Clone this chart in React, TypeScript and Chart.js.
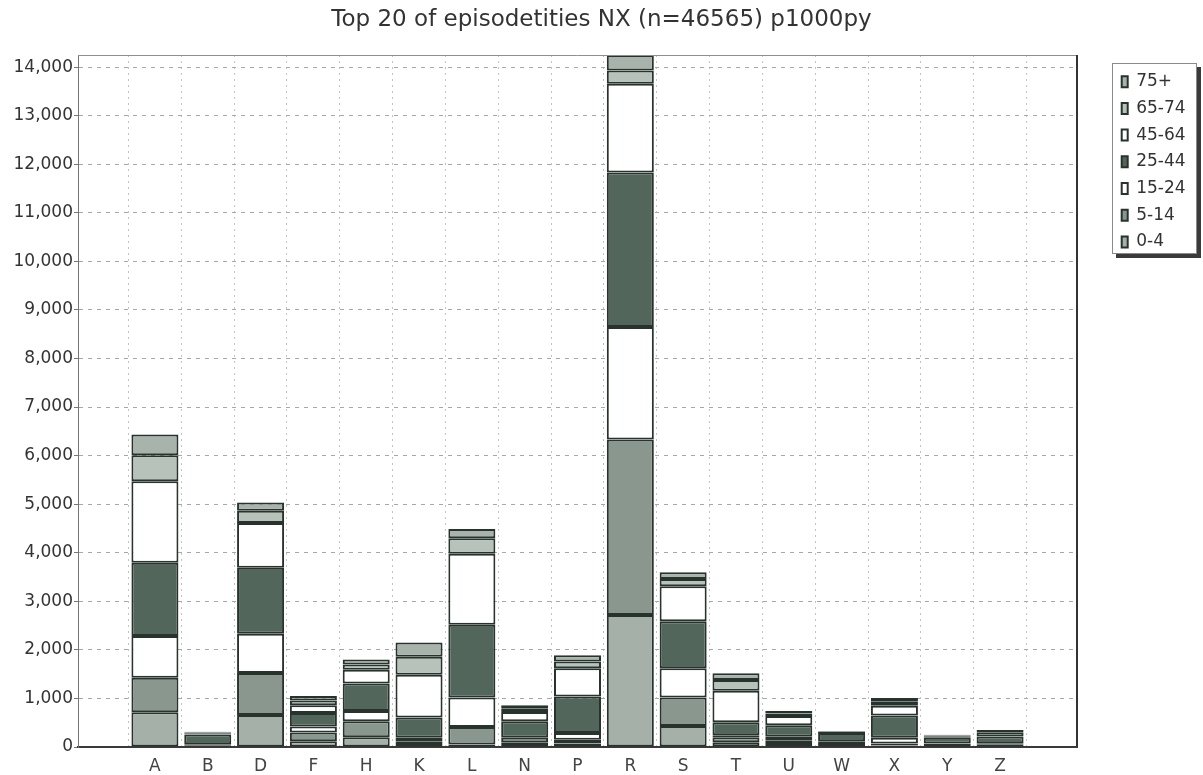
import React, { useEffect, useRef } from 'react';
import { Chart, registerables } from 'chart.js';

Chart.register(...registerables);

const chartTitle = 'Top 20 of episodetities NX (n=46565) p1000py';
const categories = ['A', 'B', 'D', 'F', 'H', 'K', 'L', 'N', 'P', 'R', 'S', 'T', 'U', 'W', 'X', 'Y', 'Z'];
const ageGroups = ['0-4', '5-14', '15-24', '25-44', '45-64', '65-74', '75+'];
const yTickValues = [0, 1000, 2000, 3000, 4000, 5000, 6000, 7000, 8000, 9000, 10000, 11000, 12000, 13000, 14000];

const age0to4 = [714, 15, 660, 120, 200, 60, 50, 40, 70, 2720, 430, 100, 60, 40, 30, 20, 20];
const age5to14 = [712, 20, 865, 180, 330, 60, 360, 60, 80, 3610, 590, 100, 80, 40, 40, 20, 25];
const age15to24 = [858, 20, 805, 120, 210, 70, 610, 90, 140, 2320, 600, 40, 70, 40, 120, 30, 30];
const age25to44 = [1508, 200, 1360, 280, 570, 420, 1500, 340, 750, 3180, 970, 270, 240, 170, 460, 120, 140];
const age45to64 = [1681, 30, 922, 160, 280, 880, 1460, 190, 580, 1830, 720, 650, 190, 20, 200, 30, 90];
const age65to74 = [535, 15, 254, 100, 110, 370, 320, 70, 140, 270, 150, 220, 50, 10, 80, 15, 25];
const age75plus = [426, 15, 171, 90, 100, 290, 190, 70, 130, 320, 140, 140, 50, 10, 80, 15, 20];

const seriesValues = [age0to4, age5to14, age15to24, age25to44, age45to64, age65to74, age75plus];
const seriesColors = ['#a5b0a9', '#8a978f', '#ffffff', '#53665b', '#ffffff', '#b7c2bb', '#a7b3ab'];

const FONT = 'DejaVu Sans';

const framePlugin = {
  id: 'framePlugin',
  afterLayout(chart: any) {
    const lg = chart.legend;
    if (lg) {
      const h = lg.height;
      lg.left = 1112;
      lg.width = 85;
      lg.right = 1112 + 85;
      lg.top = 63.5;
      lg.bottom = 63.5 + h;
    }
    const tb = chart.titleBlock;
    if (tb) {
      tb.left = 0;
      tb.right = chart.width;
      tb.width = chart.width;
    }
  },
  beforeDraw(chart: any) {
    const ctx = chart.ctx;
    const x = 1112;
    const y = 63;
    const w = 85;
    const h = 191;
    ctx.save();
    ctx.fillStyle = '#3a3a3a';
    ctx.fillRect(x + 4, y + 4, w, h);
    ctx.fillStyle = '#ffffff';
    ctx.fillRect(x, y, w, h);
    ctx.strokeStyle = '#8a8a8a';
    ctx.lineWidth = 1;
    ctx.strokeRect(x + 0.5, y + 0.5, w - 1, h - 1);
    ctx.restore();
  },
  afterDatasetsDraw(chart: any) {
    const { left, right, top, bottom } = chart.chartArea;
    const ctx = chart.ctx;
    ctx.save();
    ctx.strokeStyle = '#8f8f8f';
    ctx.lineWidth = 1;
    ctx.beginPath();
    ctx.moveTo(left, top + 0.5);
    ctx.lineTo(right, top + 0.5);
    ctx.stroke();
    ctx.strokeStyle = '#333333';
    ctx.lineWidth = 2;
    ctx.beginPath();
    ctx.moveTo(right, top);
    ctx.lineTo(right, bottom);
    ctx.stroke();
    ctx.restore();
  },
};

export default function App() {
  const canvasRef = useRef<HTMLCanvasElement>(null);

  useEffect(() => {
    if (!canvasRef.current) return;
    const chart = new Chart(canvasRef.current, {
      type: 'bar',
      data: {
        labels: categories.map((_, i) => i),
        datasets: ageGroups.map((g, k) => ({
          label: g,
          data: seriesValues[k],
          backgroundColor: seriesColors[k],
          borderColor: '#27332c',
          borderWidth: 2,
          borderSkipped: false,
          barPercentage: 0.89,
          categoryPercentage: 1,
        })),
      },
      options: {
        animation: false,
        responsive: true,
        maintainAspectRatio: false,
        layout: { padding: { left: 0, right: 56, top: 0, bottom: 0 } },
        plugins: {
          title: {
            display: true,
            text: chartTitle,
            color: '#333333',
            font: { family: FONT, size: 23, weight: 'normal' },
            padding: { top: 6.2, bottom: 21.2 },
          },
          legend: {
            position: 'right',
            align: 'start',
            reverse: true,
            maxWidth: 70,
            labels: {
              boxWidth: 6,
              boxHeight: 11,
              padding: 9.7,
              color: '#333333',
              font: { family: FONT, size: 17 },
            },
          },
          tooltip: { enabled: false },
        },
        scales: {
          x: {
            type: 'linear',
            stacked: true,
            min: -0.9,
            max: 16.9,
            grid: { color: '#c2c2c2', lineWidth: 1, drawTicks: false },
            border: { display: true, color: '#3a3a3a', width: 2, dash: [2, 4] },
            ticks: {
              stepSize: 1,
              includeBounds: false,
              autoSkip: false,
              maxRotation: 0,
              padding: 9,
              color: '#444444',
              font: { family: FONT, size: 17 },
              callback: (v: any) => categories[v as number] ?? '',
            },
            afterFit: (s: any) => {
              s.height = 28;
            },
          },
          y: {
            stacked: true,
            min: 0,
            max: 14250,
            grid: { color: '#a8a8a8', lineWidth: 1, tickLength: 4, tickColor: '#777777' },
            border: { display: true, color: '#777777', width: 1, dash: [4, 5] },
            ticks: {
              padding: 1,
              color: '#333333',
              font: { family: FONT, size: 17 },
              callback: (v: any) => Number(v).toLocaleString('en-US'),
            },
            afterBuildTicks: (s: any) => {
              s.ticks = yTickValues.map((v) => ({ value: v }));
            },
            afterFit: (s: any) => {
              s.width = 78;
            },
          },
        },
      } as any,
      plugins: [framePlugin],
    });
    return () => chart.destroy();
  }, []);

  return (
    <div style={{ position: 'absolute', left: 0, top: 0, width: 1203, height: 775, background: '#ffffff' }}>
      <canvas ref={canvasRef} />
    </div>
  );
}
